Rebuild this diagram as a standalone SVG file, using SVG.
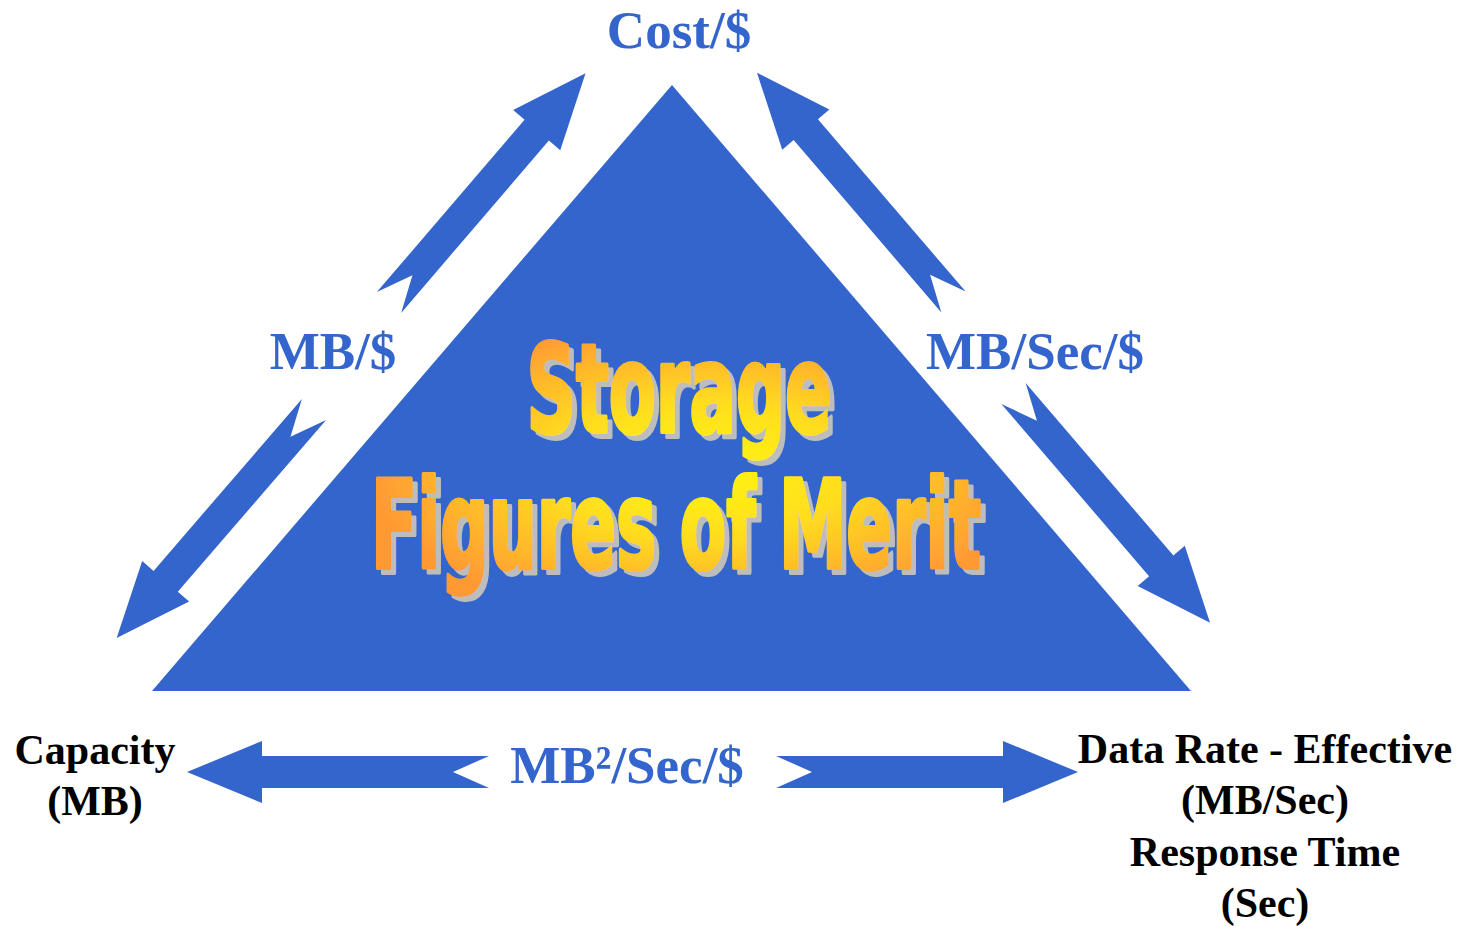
<svg xmlns="http://www.w3.org/2000/svg" width="1465" height="926" viewBox="0 0 1465 926">
  <style>
    .blue { fill: #3465CC; }
    .label { font-family: "Liberation Serif", "Times New Roman", serif; font-weight: bold; }
    .metric { fill: #3465CC; font-size: 53px; }
    .corner { fill: #000000; font-size: 42px; }
    .art { font-family: "Liberation Sans Narrow", "DejaVu Sans Condensed", "Liberation Sans", sans-serif; font-weight: bold; font-size: 123px; fill: url(#art-fill); stroke: url(#art-fill); stroke-width: 4; stroke-linejoin: round; filter: url(#drop); }
  </style>
  <defs>
    <!-- double-tailed block arrow, tail at origin pointing along +x -->
    <polygon id="block-arrow" points="0,-16 227,-16 227,-31 302,0 227,31 227,16 0,16 36,0"/>
    <radialGradient id="art-fill" gradientUnits="userSpaceOnUse" cx="0" cy="0" r="1" gradientTransform="translate(700 470) scale(330 150)">
      <stop offset="0" stop-color="#FFF70F"/>
      <stop offset="0.45" stop-color="#FFDD1F"/>
      <stop offset="1" stop-color="#FF9A33"/>
    </radialGradient>
    <!-- flat grey drop shadow offset down-right -->
    <filter id="drop" x="-5%" y="-10%" width="110%" height="125%">
      <feFlood flood-color="#BDBDBD" result="grey"/>
      <feComposite in="grey" in2="SourceAlpha" operator="in" result="shape"/>
      <feOffset in="shape" dx="5" dy="5" result="shadow"/>
      <feMerge>
        <feMergeNode in="shadow"/>
        <feMergeNode in="SourceGraphic"/>
      </feMerge>
    </filter>
  </defs>

  <rect width="1465" height="926" fill="#FFFFFF"/>

  <g id="triangle">
    <polygon class="blue" points="672,85 1191,691 152,691"/>
  </g>

  <g id="title">
    <text class="art" x="679" y="432" text-anchor="middle" textLength="305" lengthAdjust="spacingAndGlyphs">Storage</text>
    <text class="art" x="676" y="568" text-anchor="middle" textLength="610" lengthAdjust="spacingAndGlyphs">Figures of Merit</text>
  </g>

  <g id="connectors">
    <use href="#block-arrow" class="blue" transform="translate(389 302.5) rotate(-49.4)"/>
    <use href="#block-arrow" class="blue" transform="translate(953.5 302) rotate(-130.6)"/>
    <use href="#block-arrow" class="blue" transform="translate(314 409.5) rotate(130.8)"/>
    <use href="#block-arrow" class="blue" transform="translate(1013.5 393.5) rotate(49.4)"/>
    <use href="#block-arrow" class="blue" transform="translate(489 772) rotate(180)"/>
    <use href="#block-arrow" class="blue" transform="translate(776 772)"/>
  </g>

  <g id="cost">
    <text class="label metric" x="679" y="48" text-anchor="middle">Cost/$</text>
  </g>
  <g id="mb-per-dollar">
    <text class="label metric" x="333" y="369" text-anchor="middle">MB/$</text>
  </g>
  <g id="mb-sec-per-dollar">
    <text class="label metric" x="1035" y="369" text-anchor="middle">MB/Sec/$</text>
  </g>
  <g id="mb2-sec-per-dollar">
    <text class="label metric" x="627" y="783" text-anchor="middle">MB²/Sec/$</text>
  </g>

  <g id="capacity">
    <text class="label corner" x="95" y="764" text-anchor="middle">Capacity</text>
    <text class="label corner" x="95" y="815" text-anchor="middle">(MB)</text>
  </g>

  <g id="data-rate">
    <text class="label corner" x="1265" y="763" text-anchor="middle">Data Rate - Effective</text>
    <text class="label corner" x="1265" y="814" text-anchor="middle">(MB/Sec)</text>
    <text class="label corner" x="1265" y="866" text-anchor="middle">Response Time</text>
    <text class="label corner" x="1265" y="917" text-anchor="middle">(Sec)</text>
  </g>
</svg>
